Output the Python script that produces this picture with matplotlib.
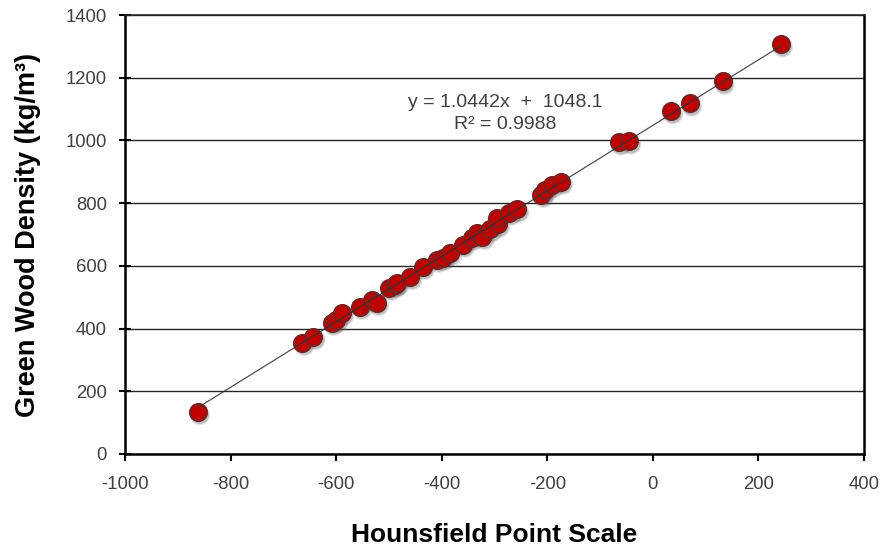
import matplotlib
matplotlib.use("Agg")
import matplotlib.pyplot as plt
import numpy as np
from matplotlib.transforms import offset_copy

plt.rcParams['font.family'] = ['Liberation Sans', 'DejaVu Sans']
plt.rcParams['axes.unicode_minus'] = False

hounsfield = [-862, -664, -643, -608, -600, -589, -555, -532, -523, -500, -489, -485,
              -460, -436, -409, -398, -385, -360, -343, -334, -323, -309, -294, -296,
              -272, -257, -211, -204, -191, -174, -64, -45, 34, 70, 132, 242]
density = [134, 355, 374, 419, 428, 450, 470, 492, 482, 530, 540, 545,
           565, 597, 620, 626, 642, 668, 690, 706, 693, 716, 732, 754,
           770, 780, 827, 843, 859, 869, 994, 997, 1093, 1118, 1188, 1307]
slope = 1.0442
intercept = 1048.1
eq_text = "y = 1.0442x  +  1048.1"
r2_text = "R² = 0.9988"

x_ticks = [-1000, -800, -600, -400, -200, 0, 200, 400]
y_ticks = [0, 200, 400, 600, 800, 1000, 1200, 1400]

fig = plt.figure(figsize=(8.84, 5.50), dpi=100)
ax = fig.add_axes([125/884, 1-454/550, (864-125)/884, (454-15)/550])

ax.set_xlim(-1000, 400)
ax.set_ylim(0, 1400)
ax.set_xticks(x_ticks)
ax.set_yticks(y_ticks)
ax.yaxis.grid(True, color='#262626', linewidth=1.0)
ax.set_axisbelow(True)

xl = np.array([min(hounsfield), max(hounsfield)])

# soft shadow then markers
sh = offset_copy(ax.transData, fig=fig, x=2, y=-3, units='dots')
ax.scatter(hounsfield, density, s=220, color='#606060', alpha=0.18, edgecolors='none',
           transform=sh, zorder=3)
ax.scatter(hounsfield, density, s=170, color='#505050', alpha=0.25, edgecolors='none',
           transform=sh, zorder=3)
ax.scatter(hounsfield, density, s=150, color='#C00000', edgecolors='#7A2020',
           linewidths=1.5, zorder=5)
ax.plot(xl, slope * xl + intercept, color='#303030', linewidth=0.9, zorder=6, alpha=0.85)

ax.text(-280, 1120, eq_text, ha='center', va='center', fontsize=14, color='#404040')
ax.text(-280, 1050, r2_text, ha='center', va='center', fontsize=14, color='#404040')

for s in ['left', 'bottom', 'right']:
    ax.spines[s].set_linewidth(1.8)
    ax.spines[s].set_color('black')
ax.spines['top'].set_linewidth(1.2)
ax.spines['top'].set_color('#262626')

ax.tick_params(axis='x', direction='out', length=5, width=1.5, labelsize=13.3,
               labelcolor='#404040', pad=10.5)
ax.tick_params(axis='y', direction='inout', length=9, width=1.5, labelsize=13.3,
               labelcolor='#404040', pad=8.5)

ax.set_xlabel("Hounsfield Point Scale", fontsize=19, fontweight='bold', va='center')
ax.xaxis.set_label_coords(0.5, (454-535)/439)
ax.set_ylabel("Green Wood Density (kg/m³)", fontsize=19.5, fontweight='bold', va='center')
ax.yaxis.set_label_coords((28-125)/739, 0.5)

fig.savefig("out.png", dpi=100)
